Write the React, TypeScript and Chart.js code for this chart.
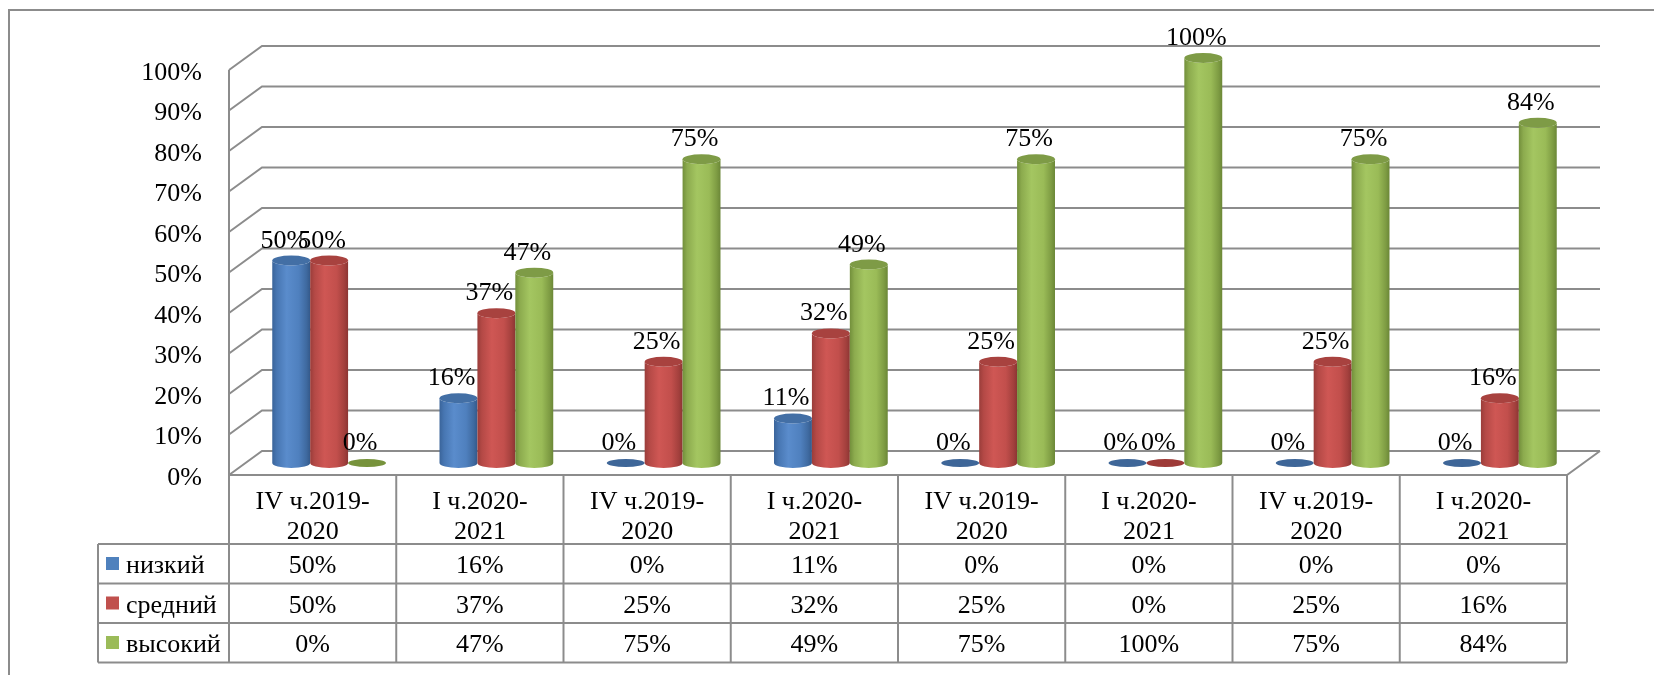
import React, { useEffect, useRef } from "react";
import { Chart, registerables } from "chart.js";

Chart.register(...registerables);

// ---- data ----
const categories: string[][] = [
  ["IV ч.2019-", "2020"],
  ["I ч.2020-", "2021"],
  ["IV ч.2019-", "2020"],
  ["I ч.2020-", "2021"],
  ["IV ч.2019-", "2020"],
  ["I ч.2020-", "2021"],
  ["IV ч.2019-", "2020"],
  ["I ч.2020-", "2021"],
];
const seriesNames = ["низкий", "средний", "высокий"];
const lowValues = [0.5, 0.16, 0, 0.11, 0, 0, 0, 0];
const midValues = [0.5, 0.37, 0.25, 0.32, 0.25, 0, 0.25, 0.16];
const highValues = [0, 0.47, 0.75, 0.49, 0.75, 1.0, 0.75, 0.84];
const yMin = 0;
const yMax = 1;
const yStep = 0.1;

// ---- style ----
const FONT_FAMILY = '"Liberation Serif", "Times New Roman", serif';
const FONT_SIZE = 26;
const FONT = `${FONT_SIZE}px ${FONT_FAMILY}`;
const GRID = "#8C8C8C";
const DX = 33;
const DY = 24;
const RY = 5;

type Palette = { base: string; stops: [number, string][]; top: string; flat: string };
const PALETTES: Palette[] = [
  {
    base: "#4F81BD",
    stops: [[0, "#3A649A"], [0.12, "#4776B2"], [0.38, "#5A8CCC"], [0.7, "#4F80BE"], [0.9, "#3F6AA0"], [1, "#34598A"]],
    top: "#436FA5",
    flat: "#3E6698",
  },
  {
    base: "#C0504D",
    stops: [[0, "#9A3D3A"], [0.12, "#B44946"], [0.38, "#CF5754"], [0.7, "#C24F4C"], [0.9, "#A3403D"], [1, "#8C3533"]],
    top: "#A8423F",
    flat: "#9E3B38",
  },
  {
    base: "#9BBB59",
    stops: [[0, "#728F3B"], [0.12, "#8CAB4E"], [0.38, "#A4C661"], [0.7, "#9ABB57"], [0.9, "#7E9C43"], [1, "#6B8737"]],
    top: "#7E9B46",
    flat: "#77933C",
  },
];

const pct = (v: number) => `${Math.round(v * 100)}%`;

const tickValues: number[] = [];
for (let v = yMin; v <= yMax + 1e-9; v += yStep) tickValues.push(Math.round(v * 100) / 100);

const wallPlugin = {
  id: "wall3d",
  beforeDatasetsDraw(chart: any) {
    const { ctx, chartArea: a, scales } = chart;
    const y = scales.y;
    ctx.save();
    ctx.strokeStyle = GRID;
    ctx.lineWidth = 2;
    ctx.lineJoin = "miter";
    for (const v of tickValues) {
      const fy = y.getPixelForValue(v);
      ctx.beginPath();
      ctx.moveTo(a.left, fy);
      ctx.lineTo(a.left + DX, fy - DY);
      ctx.lineTo(a.right + DX, fy - DY);
      ctx.stroke();
    }
    // front vertical axis
    ctx.beginPath();
    ctx.moveTo(a.left, y.getPixelForValue(yMax));
    ctx.lineTo(a.left, a.bottom);
    ctx.stroke();
    // floor front edge + right diagonal
    ctx.beginPath();
    ctx.moveTo(a.left, a.bottom);
    ctx.lineTo(a.right, a.bottom);
    ctx.lineTo(a.right + DX, a.bottom - DY);
    ctx.stroke();
    ctx.restore();
  },
};

const cylinderPlugin = {
  id: "cylinders",
  afterDatasetsDraw(chart: any) {
    const { ctx } = chart;
    ctx.save();
    const labels: { x: number; y: number; t: string }[] = [];
    chart.data.datasets.forEach((ds: any, di: number) => {
      const meta = chart.getDatasetMeta(di);
      const pal = PALETTES[di];
      meta.data.forEach((el: any, i: number) => {
        const p = el.getProps(["x", "y", "base", "width"], true);
        const cx = p.x + DX / 2;
        const top = p.y - DY / 2;
        const bottom = p.base - DY / 2;
        const rx = p.width / 2;
        const val = ds.data[i] as number;
        if (val <= 0) {
          ctx.fillStyle = pal.flat;
          ctx.beginPath();
          ctx.ellipse(cx, bottom, rx, RY - 1, 0, 0, Math.PI * 2);
          ctx.fill();
        } else {
          const g = ctx.createLinearGradient(cx - rx, 0, cx + rx, 0);
          pal.stops.forEach(([o, c]) => g.addColorStop(o, c));
          ctx.fillStyle = g;
          ctx.beginPath();
          ctx.moveTo(cx - rx, top);
          ctx.lineTo(cx - rx, bottom);
          ctx.ellipse(cx, bottom, rx, RY, 0, Math.PI, 0, true);
          ctx.lineTo(cx + rx, top);
          ctx.ellipse(cx, top, rx, RY, 0, 0, Math.PI, false);
          ctx.closePath();
          ctx.fill();
          ctx.fillStyle = pal.top;
          ctx.beginPath();
          ctx.ellipse(cx, top, rx, RY, 0, 0, Math.PI * 2);
          ctx.fill();
        }
        labels.push({ x: cx - 7, y: top - 13, t: pct(val) });
      });
    });
    ctx.fillStyle = "#000";
    ctx.font = FONT;
    ctx.textAlign = "center";
    ctx.textBaseline = "alphabetic";
    labels.forEach((l) => ctx.fillText(l.t, l.x, l.y));
    ctx.restore();
  },
};

const tablePlugin = {
  id: "dataTable",
  afterDraw(chart: any) {
    const { ctx, chartArea: a } = chart;
    const xs = chart.scales.x;
    const n = categories.length;
    const colW = (a.right - a.left) / n;
    const headTop = a.bottom;
    const headBottom = headTop + 69;
    const rowH = 39.5;
    const rows = chart.data.datasets.length;
    const tableBottom = headBottom + rows * rowH;
    const legendLeft = 98;

    ctx.save();
    ctx.strokeStyle = GRID;
    ctx.lineWidth = 2;
    for (let k = 0; k <= n; k++) {
      const x = a.left + k * colW;
      ctx.beginPath();
      ctx.moveTo(x, headTop);
      ctx.lineTo(x, tableBottom);
      ctx.stroke();
    }
    ctx.beginPath();
    ctx.moveTo(legendLeft, headBottom);
    ctx.lineTo(legendLeft, tableBottom);
    ctx.stroke();
    for (let r = 0; r <= rows; r++) {
      const y = headBottom + r * rowH;
      ctx.beginPath();
      ctx.moveTo(legendLeft, y);
      ctx.lineTo(a.right, y);
      ctx.stroke();
    }

    ctx.fillStyle = "#000";
    ctx.font = FONT;
    ctx.textBaseline = "alphabetic";
    ctx.textAlign = "center";
    categories.forEach((lines, i) => {
      const cx = xs.getPixelForValue(i);
      lines.forEach((ln, j) => ctx.fillText(ln, cx, headTop + 34 + j * 30));
    });
    chart.data.datasets.forEach((ds: any, di: number) => {
      const rowTop = headBottom + di * rowH;
      const base = rowTop + 29;
      ctx.textAlign = "center";
      (ds.data as number[]).forEach((v, i) => {
        ctx.fillText(pct(v), xs.getPixelForValue(i), base);
      });
      ctx.fillStyle = PALETTES[di].base;
      ctx.fillRect(106, rowTop + 13, 13, 13);
      ctx.fillStyle = "#000";
      ctx.textAlign = "left";
      ctx.fillText(ds.label, 126, base);
    });

    // outer frame
    ctx.strokeStyle = GRID;
    ctx.lineWidth = 2;
    ctx.beginPath();
    ctx.moveTo(9, chart.height + 5);
    ctx.lineTo(9, 10);
    ctx.lineTo(chart.width + 5, 10);
    ctx.stroke();
    ctx.restore();
  },
};

export default function App() {
  const ref = useRef<HTMLCanvasElement | null>(null);
  useEffect(() => {
    document.body.style.margin = "0";
    const canvas = ref.current;
    if (!canvas) return;
    const chart = new Chart(canvas, {
      type: "bar",
      data: {
        labels: categories,
        datasets: [lowValues, midValues, highValues].map((d, i) => ({
          label: seriesNames[i],
          data: d,
          backgroundColor: "rgba(0,0,0,0)",
          borderWidth: 0,
          categoryPercentage: 0.68,
          barPercentage: 1.0,
        })),
      },
      options: {
        responsive: false,
        maintainAspectRatio: false,
        animation: false,
        devicePixelRatio: 1,
        layout: { padding: { left: 0, top: 70, right: 87, bottom: 200 } },
        plugins: { legend: { display: false }, tooltip: { enabled: false }, title: { display: false } },
        scales: {
          x: { display: false, offset: true },
          y: {
            min: yMin,
            max: yMax,
            afterFit: (s: any) => {
              s.width = 229;
            },
            grid: { display: false, drawTicks: false },
            border: { display: false },
            ticks: {
              stepSize: yStep,
              padding: 27,
              labelOffset: 3,
              color: "#000",
              font: { family: FONT_FAMILY, size: FONT_SIZE },
              callback: (v: any) => pct(Number(v)),
            },
          },
        },
      },
      plugins: [wallPlugin, cylinderPlugin, tablePlugin],
    });
    return () => chart.destroy();
  }, []);
  return (
    <div style={{ width: 1654, height: 675, background: "#fff" }}>
      <canvas ref={ref} width={1654} height={675} style={{ display: "block", width: 1654, height: 675 }} />
    </div>
  );
}
